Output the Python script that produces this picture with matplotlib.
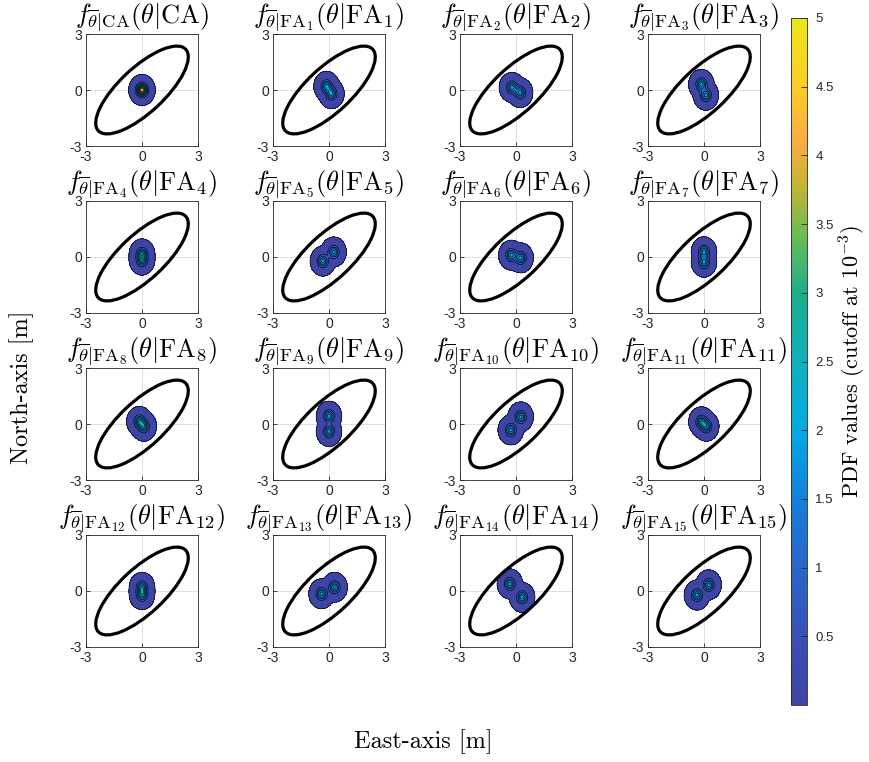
import numpy as np
import matplotlib
import matplotlib.pyplot as plt
from matplotlib.colors import LinearSegmentedColormap, Normalize
from matplotlib.patches import Ellipse
from matplotlib.ticker import FormatStrFormatter

plt.rcParams['mathtext.fontset'] = 'cm'
plt.rcParams['font.family'] = ['Liberation Sans', 'DejaVu Sans']
plt.rcParams['axes.unicode_minus'] = False

# Panel subscripts: CA, then FA_1 ... FA_15
panel_tags = ['CA'] + [str(k) for k in range(1, 16)]

# Gaussian component centres (east, north) in m, equal weights in a panel
comp_means = [
    [(0.0, 0.0)],                       # CA
    [(-0.13, 0.20), (0.13, -0.20)],     # FA1
    [(-0.22, 0.14), (0.22, -0.14)],     # FA2
    [(-0.14, 0.30), (0.10, -0.28)],     # FA3
    [(0.0, 0.17), (0.0, -0.17)],        # FA4
    [(-0.33, -0.22), (0.25, 0.27)],     # FA5
    [(-0.25, 0.10), (0.25, -0.05)],     # FA6
    [(0.0, 0.28), (0.0, -0.28)],        # FA7
    [(-0.14, 0.14), (0.10, -0.12)],     # FA8
    [(0.0, 0.42), (0.0, -0.40)],        # FA9
    [(-0.28, -0.32), (0.25, 0.38)],     # FA10
    [(-0.14, 0.12), (0.12, -0.12)],     # FA11
    [(0.0, 0.20), (0.0, -0.20)],        # FA12
    [(-0.40, -0.15), (0.30, 0.20)],     # FA13
    [(-0.33, 0.38), (0.33, -0.34)],     # FA14
    [(-0.38, -0.22), (0.25, 0.33)],     # FA15
]
sigma_e, sigma_n = 0.175, 0.205     # component std devs [m]

# confidence ellipse (semi axes in m, orientation in deg)
ell_a, ell_b, ell_angle = 3.2, 1.2, 43.0

pdf_cutoff = 1e-3
pdf_levels = [pdf_cutoff] + list(np.arange(0.5, 5.01, 0.5))
cbar_ticks = list(np.arange(0.5, 5.01, 0.5))

# parula-like colormap
parula_pts = [
    (0.00, (0.240, 0.265, 0.645)),
    (0.08, (0.235, 0.300, 0.700)),
    (0.20, (0.160, 0.400, 0.790)),
    (0.30, (0.080, 0.500, 0.850)),
    (0.40, (0.010, 0.670, 0.900)),
    (0.50, (0.060, 0.690, 0.730)),
    (0.60, (0.110, 0.680, 0.540)),
    (0.68, (0.400, 0.740, 0.330)),
    (0.76, (0.780, 0.710, 0.200)),
    (0.82, (0.980, 0.670, 0.260)),
    (0.90, (0.985, 0.800, 0.160)),
    (1.00, (0.920, 0.900, 0.100)),
]
parula = LinearSegmentedColormap.from_list('parula', parula_pts, N=256)
norm = Normalize(0, 5)
# each filled band takes the colour of its lower level
band_colors = [parula(norm(v)) for v in pdf_levels[:-1]]

W, H = 870, 762
col_left = [86, 273, 460, 648]
row_top = [34, 201, 368, 535]
box = 112

xg = np.linspace(-3, 3, 481)
X, Y = np.meshgrid(xg, xg)


def mixture_pdf(means):
    Z = np.zeros_like(X)
    for mx, my in means:
        Z += np.exp(-0.5 * (((X - mx) / sigma_e) ** 2 + ((Y - my) / sigma_n) ** 2))
    return Z / (2 * np.pi * sigma_e * sigma_n * len(means))


fig = plt.figure(figsize=(W / 100, H / 100), dpi=100)

for i, (tag, means) in enumerate(zip(panel_tags, comp_means)):
    r, c = divmod(i, 4)
    ax = fig.add_axes([col_left[c] / W, 1 - (row_top[r] + box) / H, box / W, box / H])

    Z = mixture_pdf(means)
    ax.contourf(X, Y, Z, levels=pdf_levels, colors=band_colors)
    ax.contour(X, Y, Z, levels=pdf_levels, colors='k', linewidths=0.45)
    ax.add_patch(Ellipse((0, 0), 2 * ell_a, 2 * ell_b, angle=ell_angle,
                         fill=False, ec='k', lw=2.3))

    ax.set_xlim(-3, 3)
    ax.set_ylim(-3, 3)
    ax.set_xticks([-3, 0, 3])
    ax.set_yticks([-3, 0, 3])
    ax.grid(True, color='#dedede', lw=0.7)
    ax.set_axisbelow(True)
    ax.tick_params(direction='in', length=3, width=0.6, labelsize=10,
                   colors='#262626', pad=3)
    for s in ax.spines.values():
        s.set_linewidth(0.6)
        s.set_color('#262626')

    sub = r'\mathrm{CA}' if tag == 'CA' else r'\mathrm{FA}_{%s}' % tag
    ax.set_title(r'$f_{\overline{\theta}|%s}(\theta|%s)$' % (sub, sub),
                 fontsize=19, pad=-3)

# colourbar
cax = fig.add_axes([791 / W, 1 - 705 / H, 16 / W, 687 / H])
sm = matplotlib.cm.ScalarMappable(norm=norm, cmap=parula)
cb = fig.colorbar(sm, cax=cax, ticks=cbar_ticks)
cb.ax.yaxis.set_major_formatter(FormatStrFormatter('%g'))
cb.ax.tick_params(direction='in', length=4, width=0.6, labelsize=9.5,
                  colors='#262626', pad=6)
cb.outline.set_linewidth(0.6)
cb.outline.set_edgecolor('#262626')
cb.set_label(r'PDF values (cutoff at $10^{-3}$)', family='cmr10',
             fontsize=16, labelpad=3)

fig.text(423 / W, 1 - 742 / H, 'East-axis [m]', family='cmr10', fontsize=17.5,
         ha='center', va='center')
fig.text(22 / W, 1 - 387 / H, 'North-axis [m]', family='cmr10', fontsize=17.5,
         rotation=90, ha='center', va='center')

fig.savefig('out.png', dpi=100)
